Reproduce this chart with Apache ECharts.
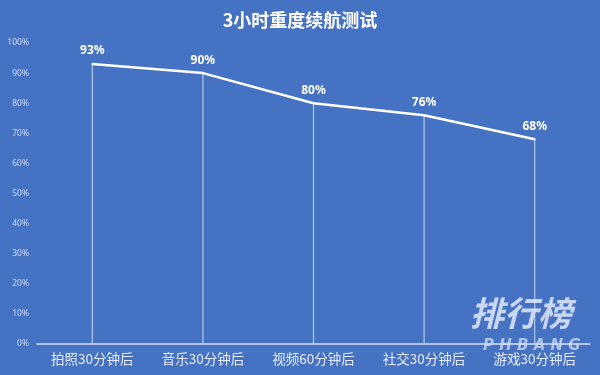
<!DOCTYPE html>
<html>
<head>
<meta charset="utf-8">
<script src="https://cdn.jsdelivr.net/npm/echarts@6/dist/echarts.min.js"></script>
<style>
html,body{margin:0;padding:0;background:#4672c4;}
#c{width:600px;height:375px;}
</style>
</head>
<body>
<div id="c"></div>
<script>
var categories = ['拍照30分钟后', '音乐30分钟后', '视频60分钟后', '社交30分钟后', '游戏30分钟后'];
var values = [93, 90, 80, 76, 68];
var title = '3小时重度续航测试';

var chart = echarts.init(document.getElementById('c'));
chart.setOption({
  backgroundColor: '#4672c4',
  animation: false,
  title: {
    text: title, left: 'center', top: 6,
    textStyle: { color: '#ffffff', fontSize: 18, fontWeight: 'bold', fontFamily: 'Noto Sans CJK SC' }
  },
  grid: { left: 37, right: 10, top: 43, bottom: 31 },
  xAxis: {
    type: 'category', data: categories, boundaryGap: true,
    axisLine: { lineStyle: { color: '#d6e0f5', width: 1.5 } },
    axisTick: { show: false },
    axisLabel: { color: '#e6ecf8', fontSize: 13.5, margin: 8, fontFamily: 'Noto Sans CJK SC' }
  },
  yAxis: {
    type: 'value', min: 0, max: 100, interval: 10,
    axisLine: { show: false }, axisTick: { show: false },
    splitLine: { show: false },
    axisLabel: { formatter: '{value}%', color: '#d0dbf2', fontSize: 8.5, margin: 8, fontFamily: 'Noto Sans' }
  },
  series: [
    {
      type: 'bar', data: values, barWidth: 1.2, silent: true,
      itemStyle: { color: 'rgba(220,230,250,0.75)' }, z: 1
    },
    {
      type: 'line', data: values, symbol: 'circle', symbolSize: 2, z: 3,
      lineStyle: { color: '#ffffff', width: 2.5 },
      itemStyle: { color: '#ffffff' },
      label: {
        show: true, position: 'top', distance: 6, formatter: '{c}%',
        color: '#ffffff', fontSize: 12, fontWeight: 'bold', fontFamily: 'Noto Sans'
      }
    }
  ],
  graphic: [
    { type: 'text', left: 470, top: 296, z: 10, style: { text: '排行榜', fill: 'rgba(235,240,255,0.8)', font: 'italic bold 34px "Noto Sans CJK SC"' } },
    { type: 'text', left: 483, top: 339, z: 10, style: { text: 'P H B A N G', fill: 'rgba(220,230,250,0.7)', font: 'italic bold 15px "DejaVu Sans"' } }
  ]
});
</script>
</body>
</html>
